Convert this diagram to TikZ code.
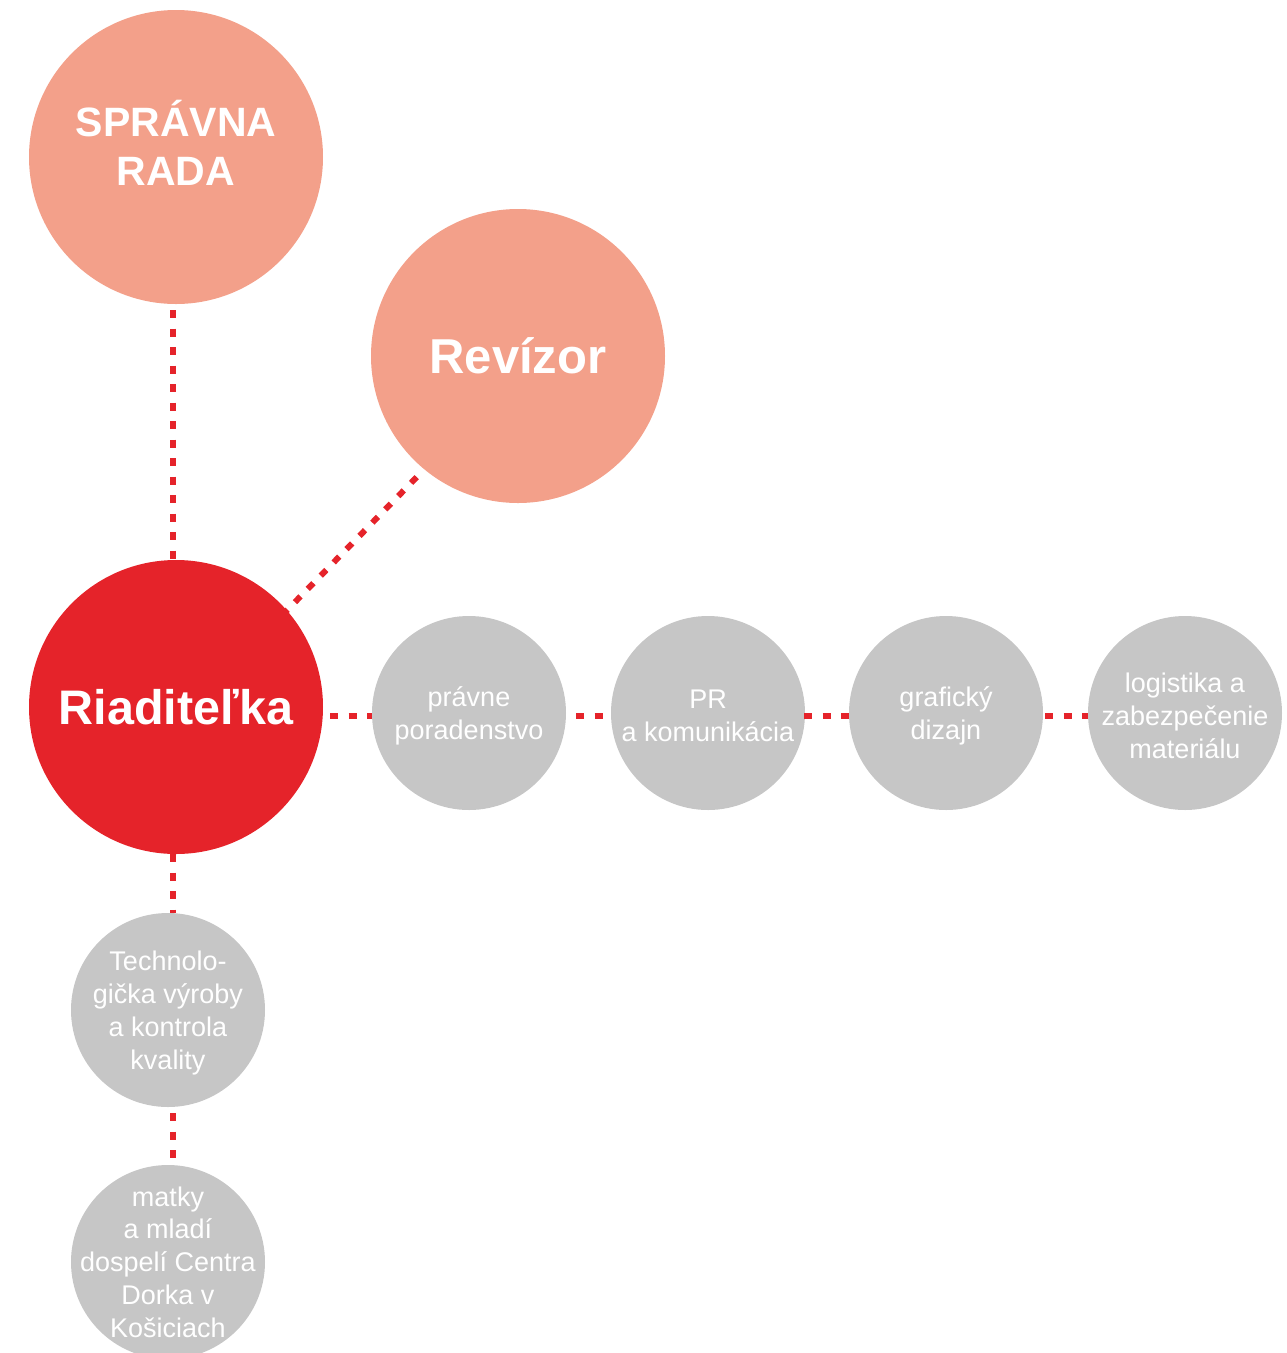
\documentclass[tikz,border=0pt]{standalone}
\usepackage{fontspec}
\setmainfont{Liberation Sans}
\definecolor{salmon}{HTML}{F3A08A}
\definecolor{rred}{HTML}{E5232A}
\definecolor{ggray}{HTML}{C6C6C6}
\begin{document}
\begin{tikzpicture}[x=1pt,y=-1pt,
  bigc/.style={circle, inner sep=0pt, minimum size=294pt, text=white, align=center,
     font=\bfseries\fontsize{41}{49}\selectfont},
  smallc/.style={circle, fill=ggray, inner sep=0pt, minimum size=194pt},
  lbl/.style={text=white, align=center, inner sep=0pt, yshift=-3pt,
     font=\fontsize{27}{32.7}\selectfont},
  dotline/.style={draw=rred, line width=6pt, dash pattern=on 8pt off 10.5pt}]
\useasboundingbox (0,0) rectangle (1287,1353);
\clip (0,0) rectangle (1287,1353);
\node[bigc, fill=salmon, label={[text=white, align=center, yshift=14pt, font=\bfseries\fontsize{41}{49}\selectfont]center:SPRÁVNA\\RADA}] (sr) at (176,157) {};
\node[bigc, fill=salmon, font=\bfseries\fontsize{49}{55}\selectfont] (rev) at (518,356) {Revízor};
\node[bigc, fill=rred, font=\bfseries\fontsize{48.5}{55}\selectfont] (ria) at (176,707) {Riaditeľka};
\node[smallc, label={[lbl]center:právne\\poradenstvo}] (g1) at (469,713) {};
\node[smallc, label={[lbl]center:PR\\a komunikácia}] (g2) at (708,713) {};
\node[smallc, label={[lbl]center:grafický\\dizajn}] (g3) at (946,713) {};
\node[smallc, label={[lbl]center:logistika a\\zabezpečenie\\materiálu}] (g4) at (1185,713) {};
\node[smallc, label={[lbl]center:Technolo-\\gička výroby\\a kontrola\\kvality}] (t1) at (168,1010) {};
\node[smallc, label={[lbl, yshift=3pt]center:matky\\a mladí\\dospelí Centra\\Dorka v\\Košiciach}] (t2) at (168,1262) {};
% connectors
\draw[dotline, shorten <=6pt] ([xshift=-3pt]sr.south) -- ([xshift=-3pt]ria.north);
\draw[dotline, transform canvas={shift={(7pt,-10pt)}}, shorten <=8pt, shorten >=-6pt] (rev) -- (ria);
\draw[dotline, shorten <=7pt] ([yshift=-3pt]ria.east |- g1.west) -- ([yshift=-3pt]g1.west);
\draw[dotline, shorten <=10pt] ([yshift=-3pt]g1.east) -- ([yshift=-3pt]g2.west);
\draw[dotline, shorten <=-1pt] ([yshift=-3pt]g2.east) -- ([yshift=-3pt]g3.west);
\draw[dotline, shorten <=2pt] ([yshift=-3pt]g3.east) -- ([yshift=-3pt]g4.west);
\draw[dotline, shorten <=0pt] ([xshift=-3pt]ria.south) -- ([xshift=-3pt]ria.south |- t1.north);
\draw[dotline, shorten <=6pt] ([xshift=-3pt]ria.south |- t1.south) -- ([xshift=-3pt]ria.south |- t2.north);
\end{tikzpicture}
\end{document}
